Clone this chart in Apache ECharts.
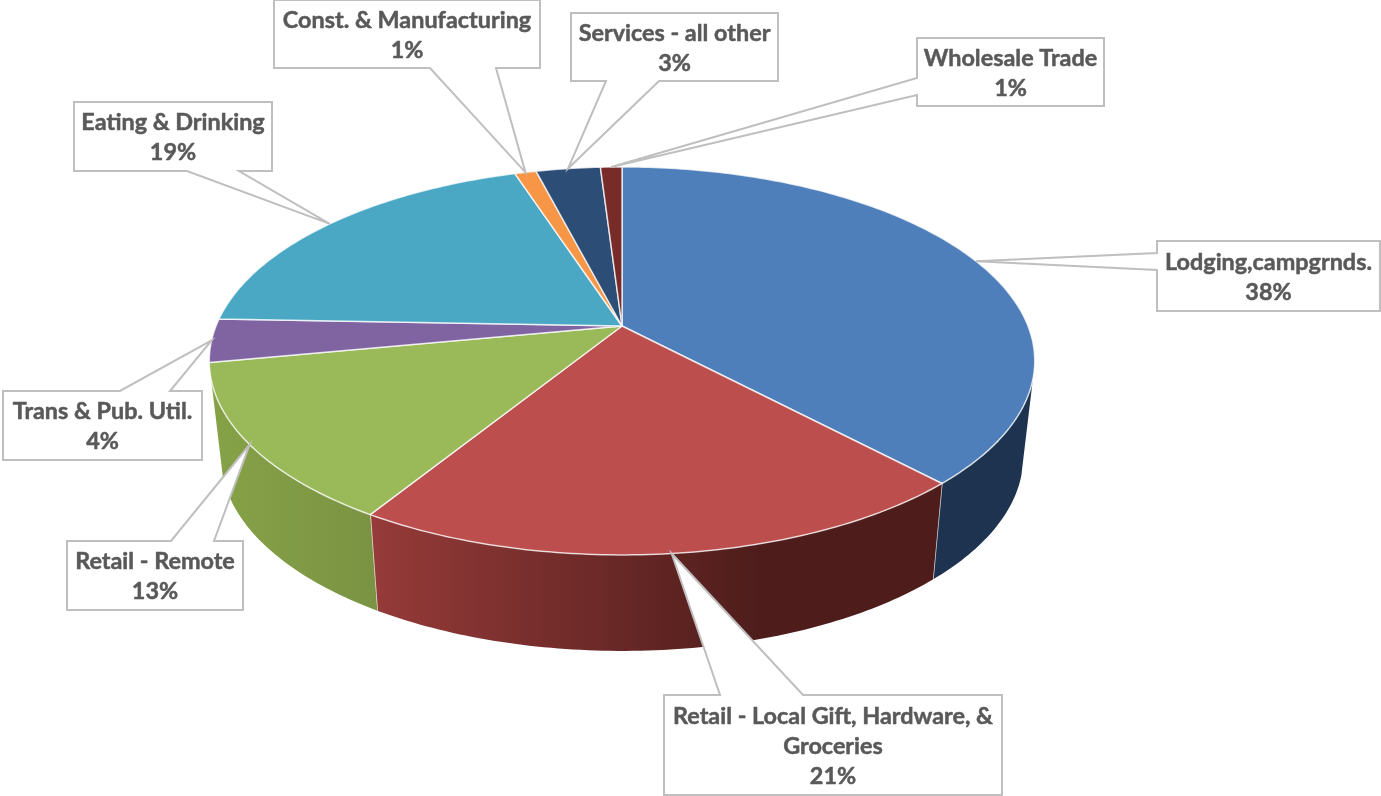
<!DOCTYPE html>
<html>
<head>
<meta charset="utf-8">
<title>Pie</title>
<script src="https://cdn.jsdelivr.net/npm/echarts@6/dist/echarts.min.js"></script>
<style>
  html, body { margin: 0; padding: 0; background: #fff; }
  #chart { width: 1381px; height: 796px; }
</style>
</head>
<body>
<div id="chart"></div>
<script>
// data (values are share of total, labels show them rounded)
const categories = ['Lodging,campgrnds.', 'Retail - Local Gift, Hardware, &\nGroceries', 'Retail - Remote',
  'Trans & Pub. Util.', 'Eating & Drinking', 'Const. & Manufacturing', 'Services - all other', 'Wholesale Trade'];
const values = [38, 20.8, 13.2, 3.6, 19.4, 1, 3, 1];

const topColors = ['#4e7fba', '#bc4f4d', '#9aba59', '#8064a2', '#4aa8c4', '#f79646', '#2c4d75', '#772c2a'];
// wall shading: left colour, right colour, where along the wall the right colour is reached
const wallColors = [['#1d334f', '#1d334f', 1], ['#963b39', '#4e1d1b', 0.68], ['#86a247', '#7a9343', 1]];

// label box: x, y, w, h, edge the wedge leaves from, wedge start and end along that edge
const boxes = [
  [1157, 241, 223, 70, 'left', 253, 270],
  [664, 695, 338, 100, 'top', 720, 803],
  [67, 541, 176, 69, 'top', 171, 214],
  [3, 391, 199, 69, 'top', 120, 170],
  [74, 102, 198, 69, 'bottom', 187, 239],
  [274, 0, 266, 68, 'bottom', 430, 496],
  [571, 13, 207, 68, 'bottom', 606, 659],
  [917, 38, 187, 68, 'left', 78, 95]
];

// perspective of the disc
const cx = 622, cy = 326, R = 406, A = 187.7, K = 0.18;
const depth = 96, bottomScale = 0.972;
const wallFrom = 29.4, wallTo = 70.6; // part of the rim where the wall shows

function rim(pct, bottom) {
  const a = pct / 100 * Math.PI * 2;
  const u = Math.sin(a), v = -Math.cos(a);
  const w = 1 - K * v;
  if (bottom) return [cx + bottomScale * R * u / w, cy + depth + A * v / w];
  return [cx + R * u / w, cy + A * v / w];
}

function arc(from, to, bottom) {
  const pts = [];
  const n = Math.max(2, Math.ceil((to - from) * 4));
  for (let i = 0; i <= n; i++) pts.push(rim(from + (to - from) * i / n, bottom));
  return pts;
}

// cumulative start / end of each slice
let total = values.reduce((s, d) => s + d, 0), sum = 0;
const sliceData = values.map((d, i) => {
  const start = sum / total * 100;
  sum += d;
  return [start, sum / total * 100, i];
});

function renderWall(params, api) {
  const i = api.value(2);
  const from = Math.max(api.value(0), wallFrom), to = Math.min(api.value(1), wallTo);
  if (to <= from) return { type: 'group', children: [] };
  const pts = arc(from, to, false).concat(arc(from, to, true).reverse());
  const c = wallColors[i];
  const xs = pts.map(p => p[0]);
  const children = [{
    type: 'polygon',
    shape: { points: pts },
    style: {
      fill: {
        type: 'linear', global: true,
        x: Math.min.apply(null, xs), y: 0, x2: Math.max.apply(null, xs), y2: 0,
        colorStops: [{ offset: 0, color: c[0] }, { offset: c[2], color: c[1] }, { offset: 1, color: c[1] }]
      }
    }
  }];
  // light edge where two walls meet
  if (to < wallTo) {
    children.push({
      type: 'line',
      shape: { x1: rim(to)[0], y1: rim(to)[1], x2: rim(to, true)[0], y2: rim(to, true)[1] },
      style: { stroke: 'rgba(255,255,255,0.75)', lineWidth: 1.5 }
    });
  }
  return { type: 'group', children: children };
}

function renderTop(params, api) {
  const i = api.value(2);
  const pts = [[cx, cy]].concat(arc(api.value(0), api.value(1), false));
  return {
    type: 'polygon',
    shape: { points: pts },
    style: { fill: topColors[i], stroke: 'rgba(255,255,255,0.75)', lineWidth: 1.5, lineJoin: 'round' }
  };
}

function renderCallout(params, api) {
  const i = api.value(2);
  const tip = rim((api.value(0) + api.value(1)) / 2);
  const b = boxes[i];
  const x = b[0], y = b[1], w = b[2], h = b[3], p = b[5], q = b[6];
  let pts;
  if (b[4] === 'top') {
    pts = [[x, y], [p, y], tip, [q, y], [x + w, y], [x + w, y + h], [x, y + h]];
  } else if (b[4] === 'bottom') {
    pts = [[x, y], [x + w, y], [x + w, y + h], [q, y + h], tip, [p, y + h], [x, y + h]];
  } else {
    pts = [[x, y], [x + w, y], [x + w, y + h], [x, y + h], [x, q], tip, [x, p]];
  }
  const lines = categories[i].split('\n').concat(Math.round(values[i] / total * 100) + '%');
  const lh = 30;
  const children = [{
    type: 'polygon',
    shape: { points: pts },
    style: { fill: '#fff', stroke: '#bfbfbf', lineWidth: 2 }
  }];
  lines.forEach((t, k) => {
    children.push({
      type: 'text',
      style: {
        text: t,
        x: x + w / 2,
        y: y + h / 2 + 1 + (k - (lines.length - 1) / 2) * lh,
        align: 'center',
        verticalAlign: 'middle',
        fill: '#595959',
        stroke: '#595959',
        lineWidth: 0.5,
        font: 'bold 23.4px Lato'
      }
    });
  });
  return { type: 'group', children: children };
}

const chart = echarts.init(document.getElementById('chart'), null, { renderer: 'canvas' });
chart.setOption({
  backgroundColor: '#fff',
  animation: false,
  series: [
    { type: 'custom', name: 'wall', coordinateSystem: 'none', z: 1, silent: true, data: sliceData, renderItem: renderWall },
    { type: 'custom', name: 'top', coordinateSystem: 'none', z: 2, silent: true, data: sliceData, renderItem: renderTop },
    { type: 'custom', name: 'labels', coordinateSystem: 'none', z: 3, silent: true, data: sliceData, renderItem: renderCallout }
  ]
});
</script>
</body>
</html>
